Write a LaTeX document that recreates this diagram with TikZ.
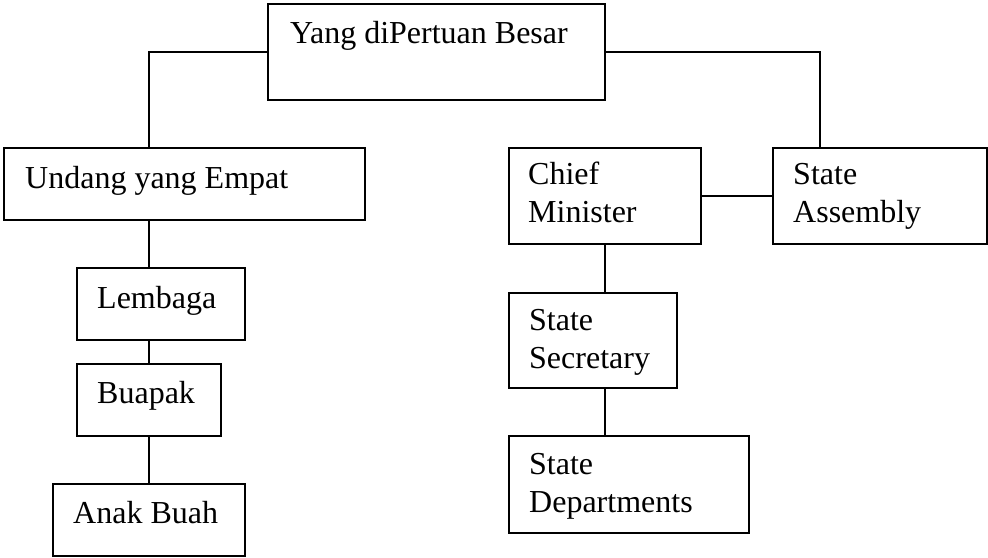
\documentclass[tikz,border=0pt]{standalone}
\usepackage{fontspec}
\setmainfont{Liberation Serif}
\usetikzlibrary{calc}
\begin{document}
\begin{tikzpicture}[x=1pt,y=-1pt,
  box/.style={draw,line width=1.8pt,anchor=north west,inner sep=0pt},
  lbl/.style={anchor=base west,inner sep=0pt,align=left,font=\fontsize{32}{37.7}\selectfont},
  conn/.style={line width=1.8pt}]
\useasboundingbox (0,0) rectangle (988,557);
% boxes
\node[box,minimum width=337pt,minimum height=96pt] (yang) at (267,3) {};
\node[box,minimum width=361pt,minimum height=72pt] (undang) at (3,147) {};
\node[box,minimum width=168pt,minimum height=72pt] (lembaga) at (76,267) {};
\node[box,minimum width=144pt,minimum height=72pt] (buapak) at (76,363) {};
\node[box,minimum width=192pt,minimum height=72pt] (anak) at (52,483) {};
\node[box,minimum width=192pt,minimum height=96pt] (chief) at (508,147) {};
\node[box,minimum width=214pt,minimum height=96pt] (assembly) at (772,147) {};
\node[box,minimum width=168pt,minimum height=95pt] (secretary) at (508,292) {};
\node[box,minimum width=240pt,minimum height=97pt] (depts) at (508,435) {};
% labels
\node[lbl] (tyang) at (290,43) {Yang diPertuan Besar};
\node[lbl] (tundang) at (25,188) {Undang yang Empat};
\node[lbl] (tlembaga) at (97,308) {Lembaga};
\node[lbl] (tbuapak) at (97,403) {Buapak};
\node[lbl] (tanak) at (73,523) {Anak Buah};
\node[lbl] (tchief) at (528,222) {Chief\\Minister};
\node[lbl] (tassembly) at (793,222) {State\\Assembly};
\node[lbl] (tsecretary) at (529,368) {State\\Secretary};
\node[lbl] (tdepts) at (529,512) {State\\Departments};
% connectors
\draw[conn] (yang.west) -| (undang.north -| buapak.north);
\draw[conn] (yang.east) -| ($(assembly.north west)!0.223!(assembly.north east)$);
\draw[conn] (undang.south -| buapak.north) -- (lembaga.north -| buapak.north);
\draw[conn] (lembaga.south -| buapak.north) -- (buapak.north);
\draw[conn] (buapak.south) -- (anak.north);
\draw[conn] (chief.east) -- (assembly.west);
\draw[conn] (chief.south) -- (chief.south |- secretary.north);
\draw[conn] (secretary.south -| chief.south) -- (depts.north -| chief.south);
\end{tikzpicture}
\end{document}
